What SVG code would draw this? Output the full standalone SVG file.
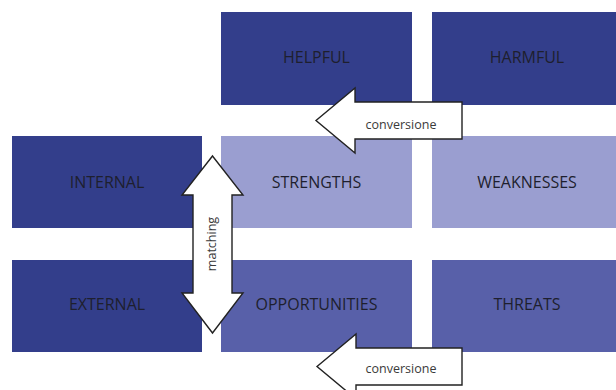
<svg xmlns="http://www.w3.org/2000/svg" width="616" height="390" viewBox="0 0 616 390">
<style>
.dark{fill:#333e8b}
.light{fill:#9a9ed0}
.mid{fill:#5860a9}
.lbl{font-family:"Open Sans","DejaVu Sans",sans-serif;font-size:16px;fill:#1e1f2e;text-anchor:middle;dominant-baseline:central}
.arr{fill:#ffffff;stroke:#222222;stroke-width:1.4;stroke-linejoin:miter}
.alb{font-family:"Open Sans","DejaVu Sans",sans-serif;font-size:12.5px;fill:#3a3a3a;text-anchor:middle;dominant-baseline:central}
</style>
<rect width="616" height="390" fill="#ffffff"/>
<g id="helpful"><rect class="dark" x="221" y="12" width="191" height="93"/><text class="lbl" x="316.5" y="57">HELPFUL</text></g>
<g id="harmful"><rect class="dark" x="432" y="12" width="184" height="93"/><text class="lbl" x="527" y="57">HARMFUL</text></g>
<g id="internal"><rect class="dark" x="12" y="136" width="190" height="92"/><text class="lbl" x="107" y="182">INTERNAL</text></g>
<g id="strengths"><rect class="light" x="221" y="136" width="191" height="92"/><text class="lbl" x="316.5" y="182">STRENGTHS</text></g>
<g id="weaknesses"><rect class="light" x="432" y="136" width="184" height="92"/><text class="lbl" x="527" y="182">WEAKNESSES</text></g>
<g id="external"><rect class="dark" x="12" y="260" width="190" height="92"/><text class="lbl" x="107" y="304">EXTERNAL</text></g>
<g id="opportunities"><rect class="mid" x="221" y="260" width="191" height="92"/><text class="lbl" x="316.5" y="304">OPPORTUNITIES</text></g>
<g id="threats"><rect class="mid" x="432" y="260" width="184" height="92"/><text class="lbl" x="527" y="304">THREATS</text></g>
<g id="connectors">
<g id="conversione-top"><polygon class="arr" points="316,120.5 355,88 355,102 462,102 462,139 355,139 355,153"/><text class="alb" x="401" y="124">conversione</text></g>
<g id="conversione-bottom"><polygon class="arr" points="317,366.5 356,334 356,348 462,348 462,385 356,385 356,399"/><text class="alb" x="401" y="368">conversione</text></g>
<g id="matching"><polygon class="arr" points="212.5,156 243,195 232,195 232,293 243,293 212.5,333 182,293 193,293 193,195 182,195"/><text class="alb" x="0" y="0" font-size="13" transform="translate(211.5,244) rotate(-90)">matching</text></g>
</g>
</svg>
